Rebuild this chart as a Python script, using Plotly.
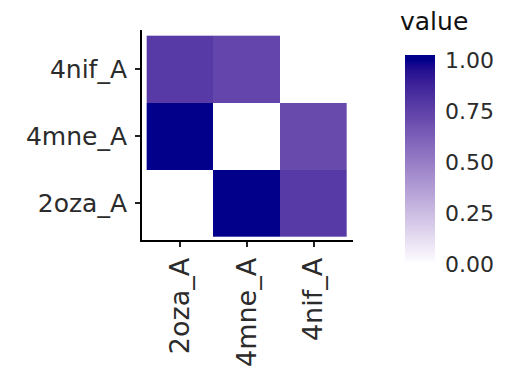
import plotly.graph_objects as go
import numpy as np

# ---- data ----
x_labels = ["2oza_A", "4mne_A", "4nif_A"]
y_labels = ["2oza_A", "4mne_A", "4nif_A"]
row_2oza = [0.0, 1.0, 0.78]
row_4mne = [1.0, 0.0, 0.71]
row_4nif = [0.78, 0.73, None]
cbar_ticks = [0.0, 0.25, 0.5, 0.75, 1.0]
cbar_ticktext = ["0.00", "0.25", "0.50", "0.75", "1.00"]
legend_title = "value"

z = [row_2oza, row_4mne, row_4nif]

# ---- Lab gradient white -> darkblue (ggplot style) ----
def srgb_to_lin(c):
    c = c / 255.0
    return np.where(c <= 0.04045, c / 12.92, ((c + 0.055) / 1.055) ** 2.4)

def lin_to_srgb(c):
    c = np.clip(c, 0, 1)
    v = np.where(c <= 0.0031308, c * 12.92, 1.055 * c ** (1 / 2.4) - 0.055)
    return np.clip(np.round(v * 255), 0, 255).astype(int)

M = np.array([[0.4124, 0.3576, 0.1805], [0.2126, 0.7152, 0.0722], [0.0193, 0.1192, 0.9505]])
Minv = np.linalg.inv(M)
WP = np.array([0.95047, 1.0, 1.08883])

def f(t):
    return np.where(t > (6 / 29) ** 3, np.cbrt(t), t / (3 * (6 / 29) ** 2) + 4 / 29)

def finv(t):
    return np.where(t > 6 / 29, t ** 3, 3 * (6 / 29) ** 2 * (t - 4 / 29))

def rgb_to_lab(rgb):
    xyz = M @ srgb_to_lin(np.array(rgb, float)) / WP
    fx, fy, fz = f(xyz)
    return np.array([116 * fy - 16, 500 * (fx - fy), 200 * (fy - fz)])

def lab_to_rgb(lab):
    L, a, b = lab
    fy = (L + 16) / 116
    fx = fy + a / 500
    fz = fy - b / 200
    xyz = np.array([finv(fx), finv(fy), finv(fz)]) * WP
    return lin_to_srgb(Minv @ xyz)

lo = rgb_to_lab([255, 255, 255])
hi = rgb_to_lab([0, 0, 139])

cmin, cmax = -0.0245, 1.0245
colorscale = []
for p in np.linspace(0, 1, 41):
    v = cmin + p * (cmax - cmin)
    t = min(max(v, 0.0), 1.0)
    r, g, b = lab_to_rgb(lo + t * (hi - lo))
    colorscale.append([float(p), f"rgb({r},{g},{b})"])

font_family = "DejaVu Sans, sans-serif"
txt = "#2b2b2b"

# plot area on screen: x 142..353, y 30..240 (page body has an 8px offset)
PL, PT, PW, PH = 142, 30, 211, 210
OFF = 8

fig = go.Figure(
    go.Heatmap(
        x=x_labels,
        y=y_labels,
        z=z,
        zmin=cmin,
        zmax=cmax,
        colorscale=colorscale,
        hoverongaps=False,
        colorbar=dict(
            thickness=30,
            len=214,
            lenmode="pixels",
            x=(405 - PL) / PW,
            xanchor="left",
            xref="paper",
            y=(PT + PH - 162) / PH,
            yanchor="middle",
            ypad=0,
            xpad=0,
            outlinewidth=0,
            tickvals=cbar_ticks,
            ticktext=cbar_ticktext,
            ticks="outside",
            tickcolor="rgba(255,255,255,0)",
            ticklen=6,
            tickwidth=1,
            tickfont=dict(size=22, color=txt, family=font_family),
        ),
    )
)

fig.add_annotation(
    text=legend_title,
    xref="paper",
    yref="paper",
    x=(399 - PL) / PW,
    y=(PT + PH - 22) / PH,
    xanchor="left",
    yanchor="middle",
    showarrow=False,
    borderpad=0,
    font=dict(size=25, color="#111", family=font_family),
)

fig.update_xaxes(
    range=[-0.57, 2.59],
    showgrid=False,
    zeroline=False,
    showline=True,
    linecolor="black",
    linewidth=2,
    ticks="outside",
    ticklen=5,
    tickwidth=2,
    tickcolor="#222",
    tickangle=-90,
    tickfont=dict(size=27, color=txt, family=font_family),
)
fig.update_yaxes(
    range=[-0.55, 2.585],
    showgrid=False,
    zeroline=False,
    showline=True,
    linecolor="black",
    linewidth=2,
    ticks="outside",
    ticklen=5,
    tickwidth=2,
    tickcolor="#222",
    ticklabelstandoff=3,
    tickfont=dict(size=25, color=txt, family=font_family),
)

W, H = 505, 381
fig.update_layout(
    width=W,
    height=H,
    margin=dict(l=PL - OFF, r=W - (PL - OFF) - PW, t=PT - OFF, b=H - (PT - OFF) - PH, autoexpand=False),
    plot_bgcolor="white",
    paper_bgcolor="white",
    font=dict(family=font_family),
)

fig.write_html("out.html")
